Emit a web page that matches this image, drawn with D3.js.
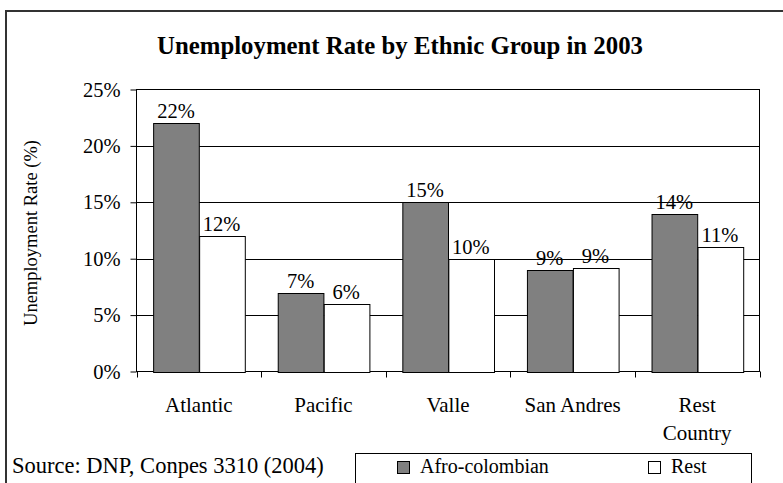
<!DOCTYPE html>
<html>
<head>
<meta charset="utf-8">
<script src="https://cdn.jsdelivr.net/npm/d3@7"></script>
<style>
  html, body { margin: 0; padding: 0; background: #fff; }
  svg { display: block; }
  text { font-family: "Liberation Serif", "Times New Roman", serif; fill: #000; }
</style>
</head>
<body>
<svg id="chart" width="783" height="483"></svg>
<script>
const categories = [["Atlantic"], ["Pacific"], ["Valle"], ["San Andres"], ["Rest", "Country"]];
const seriesNames = ["Afro-colombian", "Rest"];
const afroValues = [22, 7, 15, 9.0, 14];
const restValues = [12, 6, 10, 9.2, 11];
const valueLabels = [["22%", "12%"], ["7%", "6%"], ["15%", "10%"], ["9%", "9%"], ["14%", "11%"]];
const yTicks = [0, 5, 10, 15, 20, 25];
const seriesColors = ["#808080", "#ffffff"];
const title = "Unemployment Rate by Ethnic Group in 2003";
const yTitle = "Unemployment Rate (%)";
const sourceText = "Source: DNP, Conpes 3310 (2004)";

const svg = d3.select("#chart");
const W = 783, H = 483;
const plot = { left: 136.5, right: 759.5, top: 89.5, bottom: 371.5 };
const fs = 20.5;

// outer frame
svg.append("path")
  .attr("d", `M6,${H + 5} L6,11 L${W + 5},11`)
  .attr("fill", "none").attr("stroke", "#333").attr("stroke-width", 2);

// title
svg.append("text")
  .attr("x", 400).attr("y", 54)
  .attr("text-anchor", "middle")
  .attr("font-size", 24.8).attr("font-weight", "bold")
  .text(title);

const keys = categories.map((c, i) => i);
const x0 = d3.scaleBand().domain(keys).range([plot.left, plot.right]).paddingInner(0.267).paddingOuter(0.1335);
const x1 = d3.scaleBand().domain([0, 1]).range([0, x0.bandwidth()]);
const y = d3.scaleLinear().domain([0, 25]).range([plot.bottom, plot.top]);

// gridlines
svg.append("g").selectAll("line").data(yTicks.filter(t => t > 0 && t < 25)).join("line")
  .attr("x1", plot.left).attr("x2", plot.right)
  .attr("y1", d => Math.round(y(d)) + 0.5).attr("y2", d => Math.round(y(d)) + 0.5)
  .attr("stroke", "#000").attr("stroke-width", 1);

// plot border
svg.append("rect")
  .attr("x", plot.left).attr("y", plot.top)
  .attr("width", plot.right - plot.left).attr("height", plot.bottom - plot.top)
  .attr("fill", "none").attr("stroke", "#000").attr("stroke-width", 1);

// y axis
const yAxis = d3.axisLeft(y).tickValues(yTicks).tickSize(6).tickPadding(10)
  .tickFormat(d => d + "%");
const gy = svg.append("g").attr("transform", `translate(${plot.left},0)`).call(yAxis);
gy.select(".domain").remove();
gy.selectAll("line").attr("stroke", "#000");
gy.selectAll("text").attr("font-size", fs).attr("font-family", "Liberation Serif");

// x ticks at category boundaries
const step = x0.step();
const bounds = d3.range(categories.length + 1).map(i => plot.left + i * step);
svg.append("g").selectAll("line").data(bounds).join("line")
  .attr("x1", d => Math.round(d) + 0.5).attr("x2", d => Math.round(d) + 0.5)
  .attr("y1", plot.bottom).attr("y2", plot.bottom + 6)
  .attr("stroke", "#000");

// bars
const rows = keys.map(i => [afroValues[i], restValues[i]]);
const groups = svg.append("g").selectAll("g").data(rows).join("g")
  .attr("transform", (d, i) => `translate(${x0(i)},0)`);
groups.selectAll("rect").data(d => d).join("rect")
  .attr("x", (d, j) => Math.round(x1(j)) + 0.5)
  .attr("y", d => Math.round(y(d)) + 0.5)
  .attr("width", x1.bandwidth())
  .attr("height", d => Math.round(plot.bottom) - Math.round(y(d)))
  .attr("fill", (d, j) => seriesColors[j])
  .attr("stroke", "#000").attr("stroke-width", 1);

// value labels
groups.selectAll("text").data((d, i) => d.map((v, j) => ({ v, j, lab: valueLabels[i][j] }))).join("text")
  .attr("x", d => x1(d.j) + x1.bandwidth() / 2)
  .attr("y", d => y(d.v) - 5)
  .attr("text-anchor", "middle")
  .attr("font-size", fs)
  .text(d => d.lab);

// category labels
const catG = svg.append("g").selectAll("text").data(categories).join("text")
  .attr("text-anchor", "middle")
  .attr("font-size", 21)
  .attr("transform", (d, i) => `translate(${x0(i) + x0.bandwidth() / 2},412)`);
catG.selectAll("tspan").data(d => d).join("tspan")
  .attr("x", 0).attr("dy", (d, k) => k === 0 ? 0 : 28)
  .text(d => d);

// y title
svg.append("text")
  .attr("transform", `translate(37,233) rotate(-90)`)
  .attr("text-anchor", "middle")
  .attr("font-size", 18.5)
  .text(yTitle);

// source
svg.append("text").attr("x", 12).attr("y", 473).attr("font-size", 22.5).text(sourceText);

// legend
const lg = svg.append("g");
lg.append("rect").attr("x", 355.5).attr("y", 453.5).attr("width", 396).attr("height", 60)
  .attr("fill", "#fff").attr("stroke", "#000").attr("stroke-width", 1);
const legendX = [397, 648];
seriesNames.forEach((name, j) => {
  lg.append("rect").attr("x", legendX[j] + 0.5).attr("y", 461.5).attr("width", 12).attr("height", 12)
    .attr("fill", seriesColors[j]).attr("stroke", "#000").attr("stroke-width", 1);
  lg.append("text").attr("x", legendX[j] + 23).attr("y", 473).attr("font-size", 20).text(name);
});
</script>
</body>
</html>
